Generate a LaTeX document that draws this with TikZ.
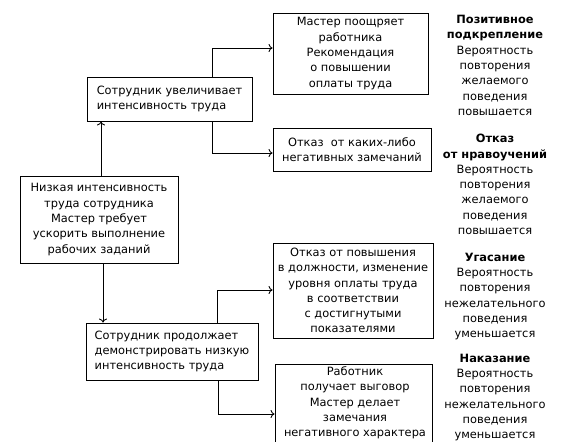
\documentclass[tikz,border=0pt]{standalone}
\usepackage{fontspec}
\setmainfont{DejaVu Sans}
\usetikzlibrary{arrows.meta}
\newcommand\fsz{\fontsize{11.4}{15.3}\selectfont}
\begin{document}
\begin{tikzpicture}[x=1pt,y=-1pt,
  box/.style={draw,line width=0.9pt,inner sep=0pt,font=\fsz,align=center},
  lbl/.style={inner sep=0pt,font=\fsz,align=center},
  arr/.style={-{To[length=4pt,width=8pt]},line width=0.9pt}]
\useasboundingbox (0,0) rectangle (582,442);
\clip (0,0) rectangle (582,442);
% left column
\node[box,align=left,minimum width=165pt,minimum height=44pt] (b1) at (169.5,99)
  {Сотрудник увеличивает\\интенсивность труда};
\node[box,minimum width=158pt,minimum height=87pt] (b0) at (99,219.5)
  {Низкая интенсивность\\труда сотрудника\\Мастер требует\\ускорить выполнение\\рабочих заданий};
\node[box,align=left,minimum width=172pt,minimum height=57pt] (b2) at (172,351.5)
  {Сотрудник продолжает\\демонстрировать низкую\\интенсивность труда};
% right boxes
\node[box,minimum width=155pt,minimum height=81pt] (m1) at (350.5,53.5)
  {Мастер поощряет\\работника\\Рекомендация\\о повышении\\оплаты труда};
\node[box,minimum width=158pt,minimum height=43pt] (m2) at (352,149.5)
  {Отказ\ \ от каких-либо\\негативных замечаний};
\node[box,minimum width=160pt,minimum height=95pt] (m3) at (353,290.5)
  {Отказ от повышения\\в должности, изменение\\уровня оплаты труда\\в соответствии\\с достигнутыми\\показателями};
\node[draw,line width=0.9pt,inner sep=0pt,minimum width=157pt,minimum height=90pt] (m4) at (353.5,409) {};
\node[lbl] (t4) at (355,403)
  {Работник\\получает выговор\\Мастер делает\\замечания\\негативного характера};
% right labels
\node[lbl] (l1) at (495,65.5)
  {\textbf{Позитивное}\\\textbf{подкрепление}\\Вероятность\\повторения\\желаемого\\поведения\\повышается};
\node[lbl] (l2) at (495,184.5)
  {\textbf{Отказ}\\\textbf{от нравоучений}\\Вероятность\\повторения\\желаемого\\поведения\\повышается};
\node[lbl] (l3) at (495,296.5)
  {\textbf{Угасание}\\Вероятность\\повторения\\нежелательного\\поведения\\уменьшается};
\node[lbl] (l4) at (495,397.5)
  {\textbf{Наказание}\\Вероятность\\повторения\\нежелательного\\поведения\\уменьшается};
% connector points
\coordinate (p0u) at (b0.north -| 101,0);
\coordinate (p1d) at (b1.south -| 101,0);
\coordinate (p0d) at (b0.south -| 103,0);
\coordinate (p2u) at (b2.north -| 103,0);
\coordinate (q1) at (b1.north -| 212,0);
\coordinate (r1) at (m1.west |- 0,48);
\coordinate (q2) at (b1.south -| 212,0);
\coordinate (r2) at (m2.west |- 0,153);
\coordinate (q3) at (b2.north -| 217,0);
\coordinate (r3) at (m3.west |- 0,290);
\coordinate (q4) at (b2.south -| 218,0);
\coordinate (r4) at (m4.west |- 0,414);
\draw[arr] (p0u) -- (p1d);
\draw[arr] (p0d) -- (p2u);
\draw[arr] (q1) |- (r1);
\draw[arr] (q2) |- (r2);
\draw[arr] (q3) |- (r3);
\draw[arr] (q4) |- (r4);
\end{tikzpicture}
\end{document}
